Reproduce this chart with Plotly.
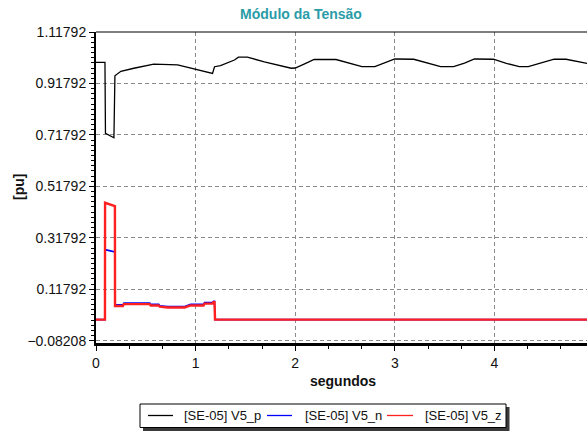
import plotly.graph_objects as go

# ---- data ----
T_P = [0, 0.09, 0.095, 0.18, 0.19, 0.25, 0.38, 0.58, 0.82, 1.0, 1.17, 1.19, 1.25, 1.39,
       1.43, 1.52, 1.69, 1.96, 2.0, 2.1, 2.19, 2.41, 2.55, 2.67, 2.8, 2.9, 3.0, 3.19, 3.33,
       3.46, 3.59, 3.7, 3.8, 3.99, 4.12, 4.25, 4.34, 4.47, 4.6, 4.72, 4.93]
V_P = [1.0, 1.0, 0.724, 0.707, 0.948, 0.965, 0.977, 0.993, 0.99, 0.974, 0.957, 0.983, 0.987, 1.009,
       1.020, 1.020, 1.002, 0.977, 0.978, 0.995, 1.011, 1.011, 0.995, 0.983, 0.983, 0.997, 1.013, 1.012, 0.996,
       0.983, 0.983, 0.997, 1.013, 1.012, 0.996, 0.983, 0.983, 0.997, 1.012, 1.012, 0.996]

T_NZ = [0, 0.09, 0.091, 0.19, 0.191, 0.27, 0.28, 0.54, 0.55, 0.63, 0.64, 0.72, 0.89, 0.95,
        1.08, 1.09, 1.17, 1.18, 1.19, 1.195, 4.93]
V_N = [0, 0, 0.272, 0.263, 0.057, 0.057, 0.064, 0.064, 0.059, 0.059, 0.054, 0.051, 0.051, 0.059,
       0.059, 0.066, 0.066, 0.071, 0.071, 0, 0]
V_Z = [0, 0, 0.454, 0.441, 0.053, 0.053, 0.060, 0.060, 0.055, 0.055, 0.050, 0.047, 0.047, 0.055,
       0.055, 0.062, 0.062, 0.068, 0.068, 0, 0]

NAMES = ["[SE-05] V5_p", "[SE-05] V5_n", "[SE-05] V5_z"]
COLORS = ["#000000", "#0000ff", "#ff2020"]
WIDTHS = [1.3, 1.6, 2.4]
Y_TICK0 = -0.08208
Y_DTICK = 0.2
TITLE = "Módulo da Tensão"
XTITLE = "segundos"
YTITLE = "[pu]"

# ---- layout geometry (pixels) ----
W, H = 587, 432
L, R, T, B = 96, 587, 32, 343
FONT = "Arial, Liberation Sans, sans-serif"

def fx(px):
    return (px - L) / (R - L)

def fy(py):
    return (B - py) / (B - T)

fig = go.Figure()
series = [(T_P, V_P), (T_NZ, V_N), (T_NZ, V_Z)]
for (t, v), n, c, w in zip(series, NAMES, COLORS, WIDTHS):
    fig.add_trace(go.Scatter(x=t, y=v, mode="lines", name=n,
                             line=dict(color=c, width=w), showlegend=False))

grid = dict(showgrid=True, gridcolor="#8a8a8a", gridwidth=1, griddash="4px,3px")

fig.update_xaxes(range=[0, (R - L) / 99.6], tick0=0, dtick=1, **grid,
                 zeroline=False, showline=True, linecolor="black", linewidth=3,
                 ticks="outside", ticklen=5, tickcolor="black", tickwidth=1,
                 tickfont=dict(family=FONT, size=14, color="#111"),
                 minor=dict(dtick=1/3, tick0=0, ticks="outside", ticklen=3,
                            tickcolor="black", showgrid=False))
ymin = 1.11792 - (B - T) / 257.25
fig.update_yaxes(range=[ymin, 1.11792], tick0=Y_TICK0, dtick=Y_DTICK, tickformat=".5f",
                 **grid, zeroline=False, showline=True, linecolor="black", linewidth=2,
                 ticks="outside", ticklen=5, tickcolor="black", tickwidth=1,
                 tickfont=dict(family=FONT, size=14, color="#111"),
                 minor=dict(dtick=0.02, tick0=Y_TICK0, ticks="outside", ticklen=3,
                            tickcolor="black", showgrid=False))

shapes = [
    # top border
    dict(type="line", xref="paper", yref="paper", x0=0, x1=1, y0=1, y1=1,
         line=dict(color="black", width=1.2)),
    # legend shadow
    dict(type="rect", xref="paper", yref="paper", x0=fx(143), x1=fx(509.5),
         y0=fy(431), y1=fy(407), fillcolor="#3a3a3a", line=dict(width=0), layer="above"),
    # legend box
    dict(type="rect", xref="paper", yref="paper", x0=fx(140), x1=fx(506),
         y0=fy(427.5), y1=fy(404), fillcolor="white", line=dict(color="black", width=1),
         layer="above"),
]
leg_line_x = [(148, 173), (267, 292), (387, 413)]
leg_text_x = [181.5, 302.5, 422.5]
leg_y = 415.5
annotations = []
for (a, b), tx, n, c in zip(leg_line_x, leg_text_x, NAMES, COLORS):
    shapes.append(dict(type="line", xref="paper", yref="paper", x0=fx(a), x1=fx(b),
                       y0=fy(leg_y), y1=fy(leg_y), line=dict(color=c, width=1.3),
                       layer="above"))
    annotations.append(dict(text=n, xref="paper", yref="paper", x=fx(tx), y=fy(leg_y),
                            xanchor="left", yanchor="middle", showarrow=False,
                            font=dict(family=FONT, size=13, color="#111")))

annotations.append(dict(text="<b>%s</b>" % XTITLE, xref="paper", yref="paper",
                        x=fx(343), y=fy(381), xanchor="center", yanchor="middle",
                        showarrow=False, font=dict(family=FONT, size=14, color="#111")))
annotations.append(dict(text="<b>%s</b>" % YTITLE, xref="paper", yref="paper",
                        x=fx(19), y=fy(187), xanchor="center", yanchor="middle",
                        textangle=-90, showarrow=False,
                        font=dict(family=FONT, size=14, color="#111")))

fig.update_layout(
    width=W, height=H,
    margin=dict(l=L, r=W - R, t=T, b=H - B, pad=0),
    paper_bgcolor="white", plot_bgcolor="white",
    title=dict(text="<b>%s</b>" % TITLE, x=301 / W, xref="container", xanchor="center",
               y=1 - 14 / H, yref="container", yanchor="middle",
               font=dict(family=FONT, size=14, color="#2a9ca8")),
    shapes=shapes, annotations=annotations,
    showlegend=False,
)

fig.write_html("out.html", config={"displayModeBar": False},
               post_script="document.body.style.margin='0';document.body.style.overflow='hidden';")
